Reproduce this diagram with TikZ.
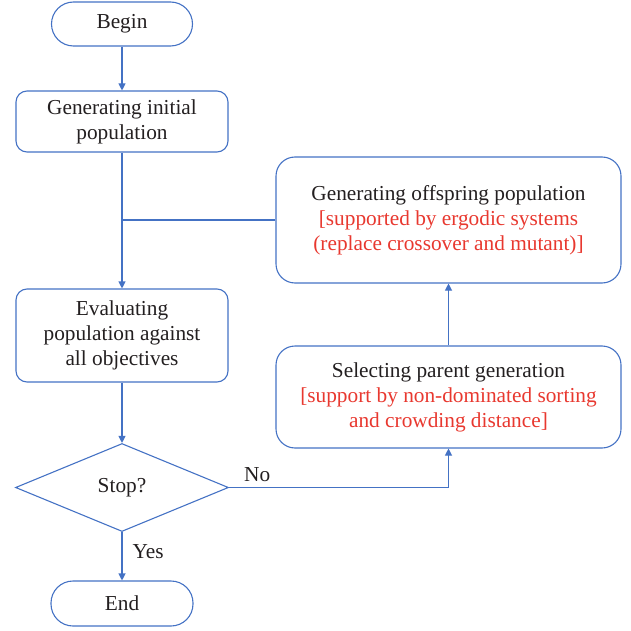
\documentclass[tikz,border=0pt]{standalone}
\usepackage{fontspec}
\setmainfont{Liberation Serif}
\usetikzlibrary{arrows.meta,shapes.geometric}
\definecolor{lnblue}{RGB}{68,114,196}
\definecolor{txtred}{RGB}{232,56,47}
\definecolor{txtblk}{RGB}{35,31,32}
\begin{document}
\begin{tikzpicture}[x=1pt,y=-1pt,
  every node/.style={text=txtblk,font=\fontsize{21.3}{25}\selectfont},
  box/.style={draw=lnblue,line width=1.1pt,align=center,inner sep=0pt},
  terminal/.style={box,minimum width=141pt,minimum height=44pt,rounded corners=22pt},
  procbox/.style={box,rounded corners=11pt},
  bigbox/.style={box,rounded corners=19pt,minimum width=345pt},
  decision/.style={box,diamond,aspect=2.42,minimum width=213pt,minimum height=88pt},
  flow/.style={draw=lnblue,line width=1.1pt},
  arr/.style={flow,-{Triangle[width=7pt,length=7pt]}},
  lbl/.style={inner sep=0pt}
]
\useasboundingbox (0,0) rectangle (631,631);
\node[terminal] (begin) at (122,24) {Begin};
\node[procbox,minimum width=212pt,minimum height=61pt] (init) at (122,121.5) {Generating initial\\population};
\node[procbox,minimum width=212pt,minimum height=93pt] (eval) at (122,335.5) {Evaluating\\population against\\all objectives};
\node[decision] (stop) at (122,487.5) {Stop?};
\node[terminal,minimum width=142pt,minimum height=45pt] (end) at (122,603.5) {End};
\node[bigbox,minimum height=126pt] (off) at (448.5,220) {Generating offspring population\\\textcolor{txtred}{[supported by ergodic systems}\\\textcolor{txtred}{(replace crossover and mutant)]}};
\node[bigbox,minimum height=102pt] (sel) at (448.5,397) {Selecting parent generation\\\textcolor{txtred}{[support by non-dominated sorting}\\\textcolor{txtred}{and crowding distance]}};
\coordinate (join) at (off.west -| init.south);
\draw[arr] (begin) -- (init);
\draw[arr] (init) -- (eval);
\draw[flow] (off.west) -- (join);
\draw[arr] (eval) -- (stop);
\draw[arr] (stop.east) -| node[lbl,pos=0.064,above,yshift=5pt] {No} (sel.south);
\draw[arr] (sel) -- (off);
\draw[arr] (stop.south) -- node[lbl,pos=0.4,right,xshift=10pt] {Yes} (end);
\end{tikzpicture}
\end{document}
